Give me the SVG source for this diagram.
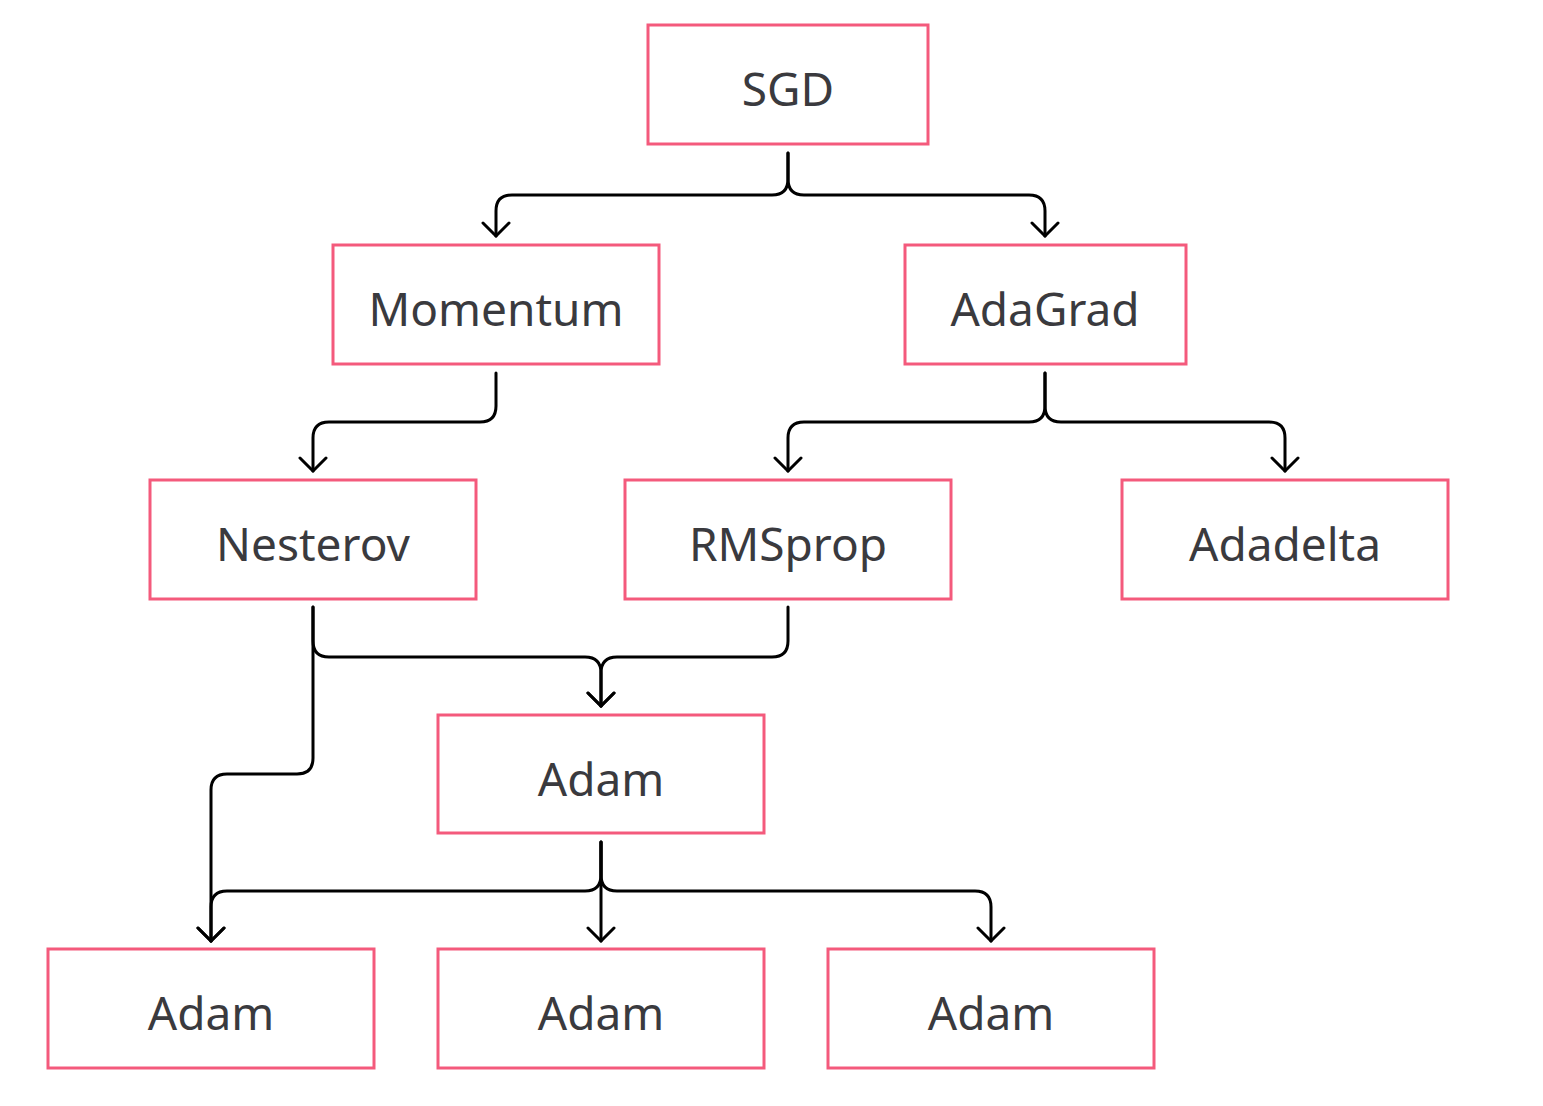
<svg xmlns="http://www.w3.org/2000/svg" width="1543" height="1106" viewBox="0 0 1543 1106">
<style>
.box{fill:#fff;stroke:#f45a7c;stroke-width:3}
.lbl{font-family:"Noto Sans","Open Sans",sans-serif;font-size:46px;fill:#3a3a3e;text-anchor:middle;dominant-baseline:central}
.c{fill:none;stroke:#000;stroke-width:3;stroke-linecap:round;stroke-linejoin:round}
</style>
<defs>
<marker id="ah" viewBox="-15 -15 30 30" markerWidth="30" markerHeight="30" markerUnits="userSpaceOnUse" refX="0" refY="0" orient="auto">
<path d="M-13,-13 L0,0 L-13,13" fill="none" stroke="#000" stroke-width="3" stroke-linecap="round" stroke-linejoin="round"/>
</marker>
</defs>
<rect width="1543" height="1106" fill="#fff"/>
<g id="connectors">
<path class="c" marker-end="url(#ah)" d="M788,153 V179 Q788,195 772,195 H512 Q496,195 496,211 V236"/>
<path class="c" marker-end="url(#ah)" d="M788,153 V179 Q788,195 804,195 H1029 Q1045,195 1045,211 V236"/>
<path class="c" marker-end="url(#ah)" d="M496,373 V406 Q496,422 480,422 H329 Q313,422 313,438 V471"/>
<path class="c" marker-end="url(#ah)" d="M1045,373 V406 Q1045,422 1029,422 H804 Q788,422 788,438 V471"/>
<path class="c" marker-end="url(#ah)" d="M1045,373 V406 Q1045,422 1061,422 H1269 Q1285,422 1285,438 V471"/>
<path class="c" marker-end="url(#ah)" d="M313,607 V641 Q313,657 329,657 H585 Q601,657 601,673 V706"/>
<path class="c" marker-end="url(#ah)" d="M788,607 V641 Q788,657 772,657 H617 Q601,657 601,673 V706"/>
<path class="c" marker-end="url(#ah)" d="M313,607 V758 Q313,774 297,774 H227 Q211,774 211,790 V941"/>
<path class="c" marker-end="url(#ah)" d="M601,842 V875 Q601,891 585,891 H227 Q211,891 211,907 V941"/>
<path class="c" marker-end="url(#ah)" d="M601,842 V941"/>
<path class="c" marker-end="url(#ah)" d="M601,842 V875 Q601,891 617,891 H975 Q991,891 991,907 V941"/>
</g>
<g id="n-sgd"><rect class="box" x="648" y="25" width="280" height="119"/><text class="lbl" x="788" y="88">SGD</text></g>
<g id="n-momentum"><rect class="box" x="333" y="245" width="326" height="119"/><text class="lbl" x="496" y="308">Momentum</text></g>
<g id="n-adagrad"><rect class="box" x="905" y="245" width="281" height="119"/><text class="lbl" x="1045" y="308">AdaGrad</text></g>
<g id="n-nesterov"><rect class="box" x="150" y="480" width="326" height="119"/><text class="lbl" x="313" y="543">Nesterov</text></g>
<g id="n-rmsprop"><rect class="box" x="625" y="480" width="326" height="119"/><text class="lbl" x="788" y="543">RMSprop</text></g>
<g id="n-adadelta"><rect class="box" x="1122" y="480" width="326" height="119"/><text class="lbl" x="1285" y="543">Adadelta</text></g>
<g id="n-adam"><rect class="box" x="438" y="715" width="326" height="118"/><text class="lbl" x="601" y="778">Adam</text></g>
<g id="n-adam1"><rect class="box" x="48" y="949" width="326" height="119"/><text class="lbl" x="211" y="1012">Adam</text></g>
<g id="n-adam2"><rect class="box" x="438" y="949" width="326" height="119"/><text class="lbl" x="601" y="1012">Adam</text></g>
<g id="n-adam3"><rect class="box" x="828" y="949" width="326" height="119"/><text class="lbl" x="991" y="1012">Adam</text></g>
</svg>
